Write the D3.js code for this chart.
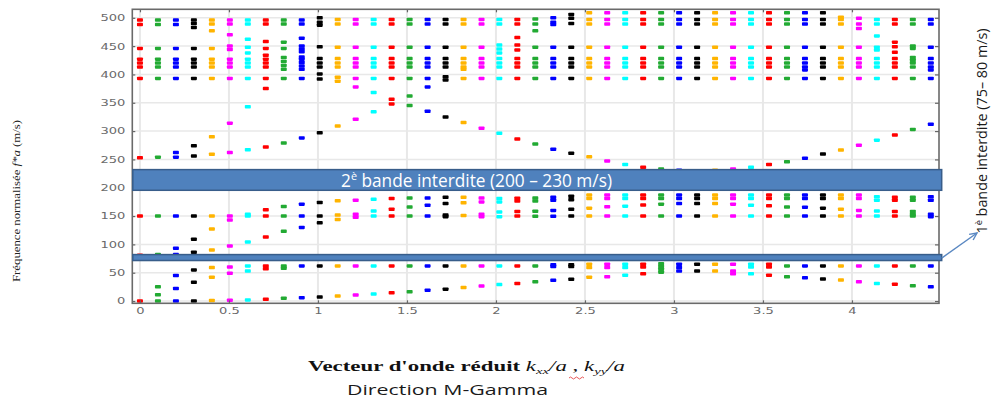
<!DOCTYPE html>
<html><head><meta charset="utf-8">
<script src="https://cdn.jsdelivr.net/npm/d3@7"></script>
<style>body{margin:0;background:#fff}svg{display:block}</style>
</head><body><svg id="c" width="996" height="405"></svg>
<script>
// reduced wave vector along M-Gamma (45 computed points)
const kValues = [0, 0.101, 0.202, 0.303, 0.404, 0.505, 0.606, 0.707, 0.808, 0.909,
  1.010, 1.111, 1.212, 1.313, 1.414, 1.515, 1.616, 1.717, 1.818, 1.919,
  2.019, 2.120, 2.221, 2.322, 2.423, 2.524, 2.625, 2.726, 2.827, 2.928,
  3.029, 3.130, 3.231, 3.332, 3.433, 3.534, 3.635, 3.736, 3.837, 3.938,
  4.039, 4.140, 4.241, 4.342, 4.443];
const colorCycle = ["#ff0000", "#22aa33", "#0000ff", "#000000", "#ffb400", "#ff00ff", "#00ffff"];
// normalised frequencies (m/s) per k point
const frequencies = [
  [0, 81, 150, 253, 393, 413, 420, 427, 446, 488, 496],
  [0, 11, 25, 82, 150, 254, 393, 413, 420, 427, 446, 488, 496],
  [0, 22, 45, 82, 93, 150, 254, 262, 393, 413, 420, 427, 446, 488, 496],
  [0, 33, 55, 86, 109, 150, 256, 274, 393, 413, 420, 427, 446, 483, 490, 496],
  [1, 42, 59, 90, 127, 150, 259, 290, 393, 413, 420, 427, 446, 477, 489, 496],
  [1.5, 49, 60, 97, 143, 150, 262, 314, 393, 413, 420, 427, 444, 450, 470, 489, 496],
  [2, 53, 62, 104, 150, 153, 267, 343, 393, 413, 420, 427, 438, 448, 462, 489, 496],
  [3, 57, 62, 113, 150, 161, 272, 375, 393, 413, 420, 427, 434, 446, 458, 489, 496],
  [5, 58, 62, 123, 150, 167, 279, 393, 409, 416, 423, 430, 446, 457, 489, 496],
  [6, 62, 130, 150, 171, 288, 393, 409, 415, 421, 427, 431, 440, 445, 450, 464, 489, 496],
  [7, 62, 138, 150, 174, 297, 392, 401, 413, 420, 428, 449, 487, 492, 500],
  [9, 62, 144, 152, 177, 309, 388, 395, 413, 420, 428, 448, 489, 497],
  [10.5, 62, 148, 153, 178, 321, 378, 393, 413, 420, 428, 448, 489, 497],
  [12.5, 62, 150, 159, 179.5, 334, 368, 393, 413, 420, 428, 448, 489, 497],
  [14.5, 62, 150, 162, 181, 348, 356, 393, 413, 420, 428, 448, 489, 497],
  [16.5, 62, 150, 166, 182, 345, 362, 393, 413, 420, 428, 448, 489, 497],
  [19, 62, 150, 169, 182, 335, 378, 393, 413, 420, 428, 448, 489, 497],
  [21, 62, 149, 152, 172, 183, 325, 390, 396, 413, 420, 428, 448, 489, 497],
  [24, 62, 151, 173.5, 183, 315, 393, 409, 413, 420, 428, 448, 489, 497],
  [26.5, 62, 149, 153, 175, 182, 305, 393, 413, 420, 428, 448, 489, 497],
  [29, 62, 149, 157, 175, 181, 296, 393, 413, 420, 428, 438, 445, 452, 489, 497],
  [31, 62, 150, 158, 176.5, 181.5, 286, 393, 413, 420, 428, 443, 452, 465, 489, 497],
  [34, 62, 149.5, 158.5, 176.5, 182, 277, 393, 413, 420, 428, 448, 477, 489, 498],
  [36.5, 61, 64, 149.5, 160, 178, 183, 268, 393, 413, 420, 428, 448, 488, 492, 500],
  [38.5, 61, 64, 150, 162, 179, 185, 261, 393, 413, 420, 428, 448, 490, 499, 506],
  [42, 59, 65, 150, 164, 181, 187, 254.5, 393, 413, 420, 428, 448, 489, 497, 509],
  [43, 59, 65, 150, 166.5, 181, 187, 247, 393, 413, 420, 428, 448, 489, 497, 509],
  [45.5, 59, 65, 150, 167.5, 181, 187, 241, 393, 413, 420, 428, 448, 489, 497, 509],
  [48, 60, 65, 150, 169.5, 181, 187, 236, 393, 413, 420, 428, 448, 489, 497, 509],
  [51, 56, 61, 66, 150, 171, 181, 187, 233, 393, 413, 420, 428, 448, 489, 497, 509],
  [53, 59, 65, 150, 172, 181, 187, 231, 393, 413, 420, 428, 448, 489, 497, 509],
  [53, 65, 150, 172, 181, 187, 230, 393, 413, 420, 428, 448, 489, 497, 509],
  [53, 65, 150, 172, 181, 187, 231, 393, 413, 420, 428, 448, 489, 497, 509],
  [48, 53, 65, 150, 171, 181, 187, 233, 393, 413, 420, 428, 448, 489, 497, 509],
  [48, 60, 65, 150, 169, 181, 187, 236, 393, 413, 420, 428, 448, 489, 497, 509],
  [45.5, 60, 65, 150, 168, 181, 187, 241, 393, 413, 420, 428, 448, 489, 497, 509],
  [43, 62, 150, 166, 181, 187, 246, 393, 413, 420, 428, 448, 489, 497, 509],
  [41, 62, 150, 165.5, 181, 187, 252, 393, 408, 413, 420, 428, 448, 489, 497, 509],
  [39, 62, 150, 164, 181, 187, 259.5, 393, 413, 420, 428, 448, 489, 497, 509],
  [37, 62, 150, 162, 181, 187, 266.5, 393, 413, 420, 428, 448, 489, 497, 501],
  [34, 62, 150, 160, 181, 187, 275, 393, 413, 420, 428, 448, 481, 489, 499],
  [31, 62, 150, 159, 178, 184, 284, 393, 413, 420, 428, 443, 448, 468, 489, 497],
  [29.5, 62, 150, 158, 178, 183, 293, 393, 413, 420, 428, 439, 449, 457, 489, 497],
  [27, 62, 150, 153, 158, 178, 183, 303, 393, 413, 420, 425, 430, 446, 450, 489, 497],
  [25, 62, 149, 153, 178, 184, 312, 393, 408, 413, 420, 428, 448, 489, 497]
];
const xTicks = [0, 0.5, 1, 1.5, 2, 2.5, 3, 3.5, 4];
const xTickLabels = ["0", "0.5", "1", "1.5", "2", "2.5", "3", "3.5", "4"];
const yTicks = [0, 50, 100, 150, 200, 250, 300, 350, 400, 450, 500];
const band1 = [71.5, 82];     // 1st band gap box (drawn)
const band2 = [195.5, 232];   // 2nd band gap box (drawn)

const svg = d3.select("#c");
svg.append("rect").attr("width", 996).attr("height", 405).attr("fill", "#fff");

const L = 132.3, R = 939, T = 9.3, B = 303.3;
const x = d3.scaleLinear().domain([-0.043, 4.489]).range([L, R]);
const y = d3.scaleLinear().domain([-4, 515]).range([B, T]);

// grid
const grid = svg.append("g");
grid.selectAll("line.v").data(xTicks).join("line")
  .attr("x1", d => x(d)).attr("x2", d => x(d)).attr("y1", T).attr("y2", B)
  .attr("stroke", "#e8e8e8").attr("stroke-width", 2);
grid.selectAll("line.h").data(yTicks).join("line")
  .attr("y1", d => y(d)).attr("y2", d => y(d)).attr("x1", L).attr("x2", R)
  .attr("stroke", "#e8e8e8").attr("stroke-width", 1.5);

// clip
svg.append("clipPath").attr("id", "pc").append("rect")
  .attr("x", L).attr("y", T).attr("width", R - L).attr("height", B - T);

const pts = [];
frequencies.forEach((col, i) => col.forEach(f => pts.push({k: kValues[i], f, c: colorCycle[i % colorCycle.length]})));
svg.append("g").attr("clip-path", "url(#pc)")
  .selectAll("rect").data(pts).join("rect")
  .attr("x", d => x(d.k) - 3).attr("y", d => y(d.f) - 1.75)
  .attr("width", 6).attr("height", 3.5).attr("rx", 0.8)
  .attr("fill", d => d.c);

// axes
const sx = 1.45;
const yAxis = svg.append("g").attr("transform", `translate(${L},0)`)
  .call(d3.axisLeft(y).tickValues(yTicks).tickSize(-3).tickPadding(7).tickFormat(d3.format("d")));
const xAxis = svg.append("g").attr("transform", `translate(0,${B})`)
  .call(d3.axisBottom(x).tickValues(xTicks).tickSize(-3).tickFormat((d, i) => xTickLabels[i]));
const xTop = svg.append("g").attr("transform", `translate(0,${T})`)
  .call(d3.axisTop(x).tickValues(xTicks).tickSize(-3).tickFormat(""));
const yRight = svg.append("g").attr("transform", `translate(${R},0)`)
  .call(d3.axisRight(y).tickValues(yTicks).tickSize(-4).tickFormat(""));
[yAxis, xAxis, xTop, yRight].forEach(a => {
  a.select(".domain").remove();
  a.selectAll(".tick line").attr("stroke", "#666").attr("stroke-width", 1.2);
  a.selectAll("text").attr("fill", "#6a6a6a").attr("font-family", "DejaVu Sans").attr("font-size", 9);
});
yAxis.selectAll("text").attr("x", -7 / sx).attr("transform", `scale(${sx},1)`);
xAxis.selectAll("text").attr("y", 11.2).attr("dy", 0).attr("transform", `scale(${sx},1)`);

// frame
svg.append("rect").attr("x", L).attr("y", T).attr("width", R - L).attr("height", B - T)
  .attr("fill", "none").attr("stroke", "#6a6a6a").attr("stroke-width", 1.6);

// band boxes
const boxL = L + 0.5, boxR = 941.7;
svg.append("rect").attr("x", boxL).attr("y", y(band2[1])).attr("width", boxR - boxL)
  .attr("height", y(band2[0]) - y(band2[1]))
  .attr("fill", "#4f81bd").attr("stroke", "#385d8a").attr("stroke-width", 1.5);
svg.append("rect").attr("x", boxL).attr("y", y(band1[1])).attr("width", boxR - boxL)
  .attr("height", y(band1[0]) - y(band1[1]))
  .attr("fill", "#4f81bd").attr("stroke", "#385d8a").attr("stroke-width", 1.5);

const t2 = svg.append("text").attr("x", 341).attr("y", 186.5)
  .attr("font-family", "Open Sans").attr("font-size", 17.5).attr("fill", "#fff")
  .attr("textLength", 271).attr("lengthAdjust", "spacingAndGlyphs");
t2.append("tspan").text("2");
t2.append("tspan").attr("dy", -6.5).attr("font-size", 11).text("è");
t2.append("tspan").attr("dy", 6.5).text(" bande interdite (200 – 230 m/s)");

// arrow
const ax1 = boxR, ay1 = (y(band1[0]) + y(band1[1])) / 2 + 0.5, ax2 = 977, ay2 = 233;
svg.append("line").attr("x1", ax1).attr("y1", ay1).attr("x2", ax2).attr("y2", ay2)
  .attr("stroke", "#5a88c2").attr("stroke-width", 1.4);
const ang = Math.atan2(ay2 - ay1, ax2 - ax1);
const hl = 8;
svg.append("path")
  .attr("d", `M${ax2 - hl * Math.cos(ang - 0.45)},${ay2 - hl * Math.sin(ang - 0.45)} L${ax2},${ay2} L${ax2 - hl * Math.cos(ang + 0.45)},${ay2 - hl * Math.sin(ang + 0.45)}`)
  .attr("fill", "none").attr("stroke", "#5a88c2").attr("stroke-width", 1.4);

// right rotated annotation
const t1 = svg.append("text").attr("transform", "translate(987,131) rotate(-90)")
  .attr("text-anchor", "middle").attr("font-family", "Open Sans").attr("font-size", 14)
  .attr("fill", "#1a1a1a").attr("textLength", 205).attr("lengthAdjust", "spacingAndGlyphs");
t1.append("tspan").text("1");
t1.append("tspan").attr("dy", -5).attr("font-size", 9).text("è");
t1.append("tspan").attr("dy", 5).text(" bande interdite (75– 80 m/s)");

// y label
const yl = svg.append("text").attr("transform", "translate(20,201) rotate(-90)")
  .attr("text-anchor", "middle").attr("font-family", "Liberation Serif").attr("font-size", 11)
  .attr("fill", "#222").attr("textLength", 162).attr("lengthAdjust", "spacingAndGlyphs");
yl.append("tspan").text("Fréquence normalisée ");
yl.append("tspan").attr("font-style", "italic").text("f*a");
yl.append("tspan").text(" (m/s)");

// x label
const xl = svg.append("text").attr("x", 308).attr("y", 371)
  .attr("font-family", "Liberation Serif").attr("font-size", 14).attr("fill", "#111")
  .attr("textLength", 317).attr("lengthAdjust", "spacingAndGlyphs");
xl.append("tspan").attr("font-weight", "bold").text("Vecteur d'onde réduit ");
xl.append("tspan").attr("font-style", "italic").text("k");
xl.append("tspan").attr("font-style", "italic").attr("font-size", 9).attr("dy", 3).text("xx");
xl.append("tspan").attr("font-style", "italic").attr("dy", -3).text("/a");
xl.append("tspan").text("  , ");
xl.append("tspan").attr("font-style", "italic").text("k");
xl.append("tspan").attr("font-style", "italic").attr("font-size", 9).attr("dy", 3).text("yy");
xl.append("tspan").attr("font-style", "italic").attr("dy", -3).text("/a");

// spell-check squiggle under "yy"
svg.append("path").attr("d", "M569,378 q1.5,-2 3,0 t3,0 t3,0 t3,0 t3,0")
  .attr("fill", "none").attr("stroke", "#e03030").attr("stroke-width", 0.8);

svg.append("text").attr("x", 347).attr("y", 395)
  .attr("font-family", "Open Sans").attr("font-size", 14).attr("fill", "#1a1a1a")
  .attr("textLength", 201).attr("lengthAdjust", "spacingAndGlyphs")
  .text("Direction M-Gamma");
</script></body></html>
